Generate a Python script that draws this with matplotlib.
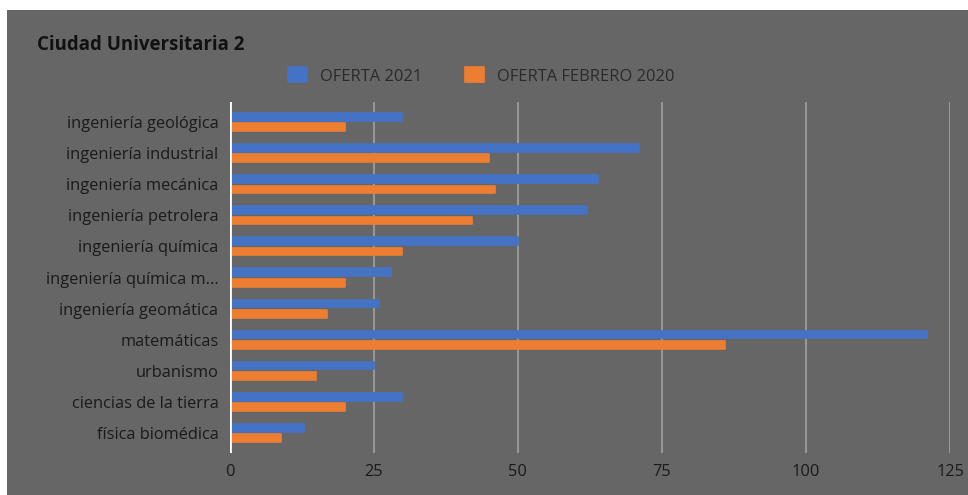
import matplotlib
matplotlib.use("Agg")
import matplotlib.pyplot as plt
from matplotlib.patches import Rectangle
import numpy as np

categories = [
    "ingeniería geológica",
    "ingeniería industrial",
    "ingeniería mecánica",
    "ingeniería petrolera",
    "ingeniería química",
    "ingeniería química m...",
    "ingeniería geomática",
    "matemáticas",
    "urbanismo",
    "ciencias de la tierra",
    "física biomédica",
]
oferta_2021 = [30, 71, 64, 62, 50, 28, 26, 121, 25, 30, 13]
oferta_feb_2020 = [20, 45, 46, 42, 30, 20, 17, 86, 15, 20, 9]
series_labels = ["OFERTA 2021", "OFERTA FEBRERO 2020"]
x_ticks = [0, 25, 50, 75, 100, 125]

BLUE = "#4472C4"
ORANGE = "#ED7D31"
BG = "#666666"
TEXT = "#1a1a1a"

plt.rcParams["font.family"] = ["Open Sans", "DejaVu Sans"]

W, H = 968, 495
fig = plt.figure(figsize=(W / 100, H / 100), dpi=100)
fig.patch.set_facecolor("white")
# grey chart card, inset from the top and left edges
fig.add_artist(Rectangle((7 / W, 0), 1 - 7 / W, 1 - 10 / H,
                         transform=fig.transFigure, facecolor=BG,
                         edgecolor="none", zorder=0))

ax = fig.add_axes([229.5 / W, 1 - 453 / H, (950 - 229.5) / W, (453 - 102) / H])
ax.set_facecolor("none")

y = np.arange(len(categories))
bh = 0.25
off = 0.165
ax.barh(y - off, oferta_2021, height=bh, color=BLUE, edgecolor=BLUE,
        linewidth=1.2, joinstyle="round", zorder=3, label=series_labels[0])
ax.barh(y + off, oferta_feb_2020, height=bh, color=ORANGE, edgecolor=ORANGE,
        linewidth=1.2, joinstyle="round", zorder=3, label=series_labels[1])

ax.set_xlim(0, 125)
ax.set_ylim(len(categories) - 0.35, -0.65)
ax.set_xticks(x_ticks)
ax.set_xticklabels([str(t) for t in x_ticks])
ax.set_yticks(y)
ax.set_yticklabels(categories)
ax.tick_params(axis="both", length=0, labelsize=11.8, colors=TEXT)
ax.tick_params(axis="x", pad=8)
ax.tick_params(axis="y", pad=8)

ax.grid(axis="x", color="#a8a8a8", linewidth=1.1, zorder=1)
for s in ax.spines.values():
    s.set_visible(False)
ax.axvline(0, color="white", linewidth=2, zorder=4)

fig.text(37 / W, 1 - 45 / H, "Ciudad Universitaria 2", fontsize=13.4,
         fontweight="bold", color="#111111", va="center", ha="left")

leg = fig.legend(loc="center", bbox_to_anchor=(481.5 / W, 1 - 76 / H), ncol=2,
                 frameon=False, fontsize=11.9, handlelength=1.15, handleheight=1.0,
                 handletextpad=0.78, columnspacing=2.6, labelcolor="#2a2a2a")

fig.savefig("out.png", dpi=100, facecolor=fig.get_facecolor())
